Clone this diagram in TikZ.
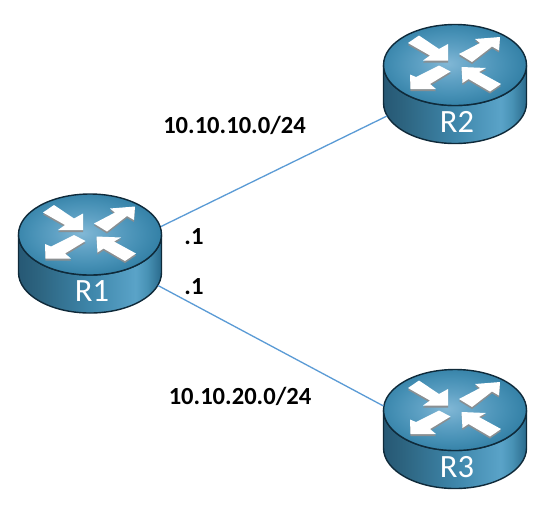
\documentclass[tikz,border=0pt]{standalone}
\usepackage{fontspec}
\setmainfont{Carlito}
\definecolor{linkblue}{HTML}{5B9BD5}
\definecolor{rimdark}{HTML}{0F2A3A}
\definecolor{arrowshade}{HTML}{8A8F92}
\definecolor{topa}{HTML}{82B8D6}
\definecolor{topb}{HTML}{5FA1C4}
\definecolor{topc}{HTML}{4690B5}
\definecolor{topd}{HTML}{327FA5}
\definecolor{sidea}{HTML}{265874}
\definecolor{sideb}{HTML}{2D6480}
\definecolor{sidec}{HTML}{3E86AA}
\definecolor{sided}{HTML}{5AA3C8}
\definecolor{sidee}{HTML}{4892B5}
\definecolor{sidef}{HTML}{2A6A8C}
\pgfdeclareradialshading{rtrtop}{\pgfpoint{-3bp}{1bp}}{%
 color(0bp)=(topa);
 color(10bp)=(topb);
 color(19bp)=(topc);
 color(27bp)=(topd);
 color(50bp)=(topd)}
\pgfdeclarehorizontalshading{rtrside}{100bp}{%
 color(0bp)=(sidea);
 color(25bp)=(sidea);
 color(32bp)=(sideb);
 color(50bp)=(sidec);
 color(66bp)=(sided);
 color(70bp)=(sidee);
 color(75bp)=(sidef);
 color(100bp)=(sidef)}
\tikzset{
 rtrarrow/.style={fill=white,draw=none},
 rtrshadow/.style={fill=arrowshade,draw=none},
 rtrname/.style={text=white,font=\fontsize{18.5}{18.5}\selectfont,inner sep=0pt},
 iplabel/.style={font=\bfseries\fontsize{14}{14}\selectfont,inner sep=0pt},
 routerlink/.style={draw=linkblue,line width=.75pt},
 pics/router/.style={code={
  \draw[rimdark,line width=.8pt,shading=rtrside]
   (-71.5,0)--(-71.5,-38) arc[start angle=180,end angle=360,x radius=71.5,y radius=40.5]--(71.5,0)
   arc[start angle=0,end angle=-180,x radius=71.5,y radius=40.5]--cycle;
  \draw[rimdark,line width=.8pt,shading=rtrtop] (0,0) ellipse[x radius=71.5,y radius=40.5];
  \foreach \offs/\fillstyle in {-2/rtrshadow,0/rtrarrow}{
   \begin{scope}[yshift=\offs*.02cm]
   \fill[\fillstyle] (-47,22)--(-36,29.5)--(-16,16)--(-7,21)--(-7,4.5)--(-32,4.5)--(-25,9.5)--cycle;
   \fill[\fillstyle] (45,28)--(20,26)--(25,22)--(4,11)--(17,3)--(37,18.5)--(44,14.5)--cycle;
   \fill[\fillstyle] (-45,-9.5)--(-39,-12)--(-16,-.5)--(-4.5,-6.5)--(-25,-19)--(-19,-24)--(-44.5,-24)--cycle;
   \fill[\fillstyle] (6.5,-2)--(31,-3)--(24,-7)--(46,-19)--(35,-26.5)--(13.5,-14)--(7.5,-18)--cycle;
   \end{scope}
  }
  \node[rtrname] (-name) at (2,-57) {#1};
  \coordinate (-e) at (71,8);
  \coordinate (-w) at (-71.5,4);
  \coordinate (-se) at (68,-51);
  \coordinate (-sw) at (-68,-51);
 }}
}

\begin{document}
\begin{tikzpicture}[x=.02cm,y=.02cm]
\useasboundingbox (0,0) rectangle (553,512);
\pic (R1) at (90,277.5) {router={R1}};
\pic (R2) at (455,447) {router={R2}};
\pic (R3) at (455,102) {router={R3}};
\draw[routerlink] (R1-e)--(R2-sw);
\draw[routerlink] (R1-se)--(R3-w);
\node[iplabel] (net12) at (234.5,387) {10.10.10.0/24};
\node[iplabel] (net13) at (240,116) {10.10.20.0/24};
\node[iplabel] (ip12) at (194,275) {.1};
\node[iplabel] (ip13) at (194,225) {.1};
\end{tikzpicture}
\end{document}
